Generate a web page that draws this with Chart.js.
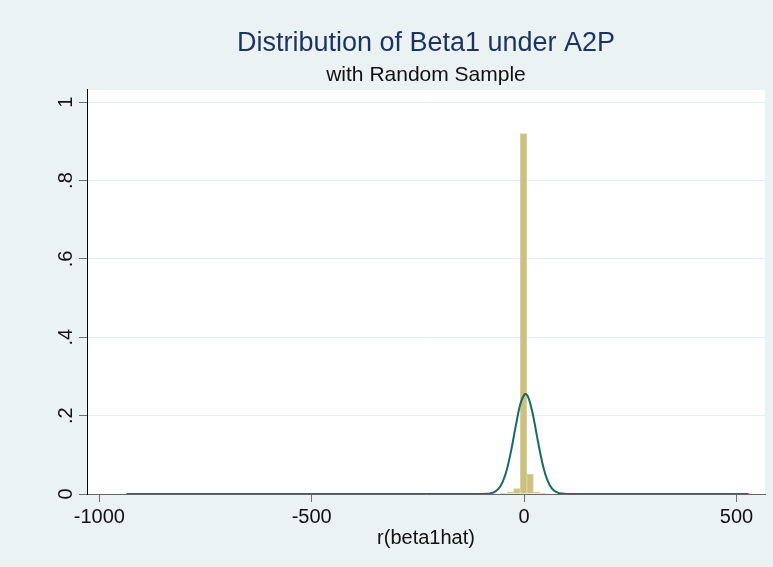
<!DOCTYPE html>
<html>
<head>
<meta charset="utf-8">
<title>Distribution of Beta1 under A2P</title>
<script src="https://cdn.jsdelivr.net/npm/chart.js@4.4.1/dist/chart.umd.min.js"></script>
<style>
  html, body { margin: 0; padding: 0; background: #eaf2f3; }
  canvas { display: block; }
</style>
</head>
<body>
<canvas id="betaChart" width="773" height="567"></canvas>
<script>
  // Histogram: bin midpoints and fraction of the sample in each bin
  const binMid = [-931.5, -482, -420, -311.5, -48, -32.5, -17, -1.5, 14, 29.5, 45, 339.5, 479, 525.5];
  const binFrac = [0.001, 0.001, 0.001, 0.001, 0.002, 0.005, 0.014, 0.92, 0.05, 0.005, 0.002, 0.001, 0.001, 0.001];

  // Normal density overlay (scaled to fraction)
  const curveX = [-936, -110, -100, -90, -80, -70, -60, -50, -40, -30, -20, -10, 0, 3, 10, 20, 30, 40, 50, 60, 70, 80, 90, 100, 110, 528];
  const curveY = [0, 0, 0.0001, 0.0004, 0.0016, 0.005, 0.0135, 0.032, 0.065, 0.114, 0.172, 0.225, 0.253, 0.255, 0.246, 0.206, 0.149, 0.093, 0.05, 0.023, 0.009, 0.003, 0.001, 0.0002, 0, 0];

  // Axis ticks
  const xTicks = [-1000, -500, 0, 500];
  const yTicks = [0, 0.2, 0.4, 0.6, 0.8, 1];
  const yTickLabels = ['0', '.2', '.4', '.6', '.8', '1'];

  const fontFamily = "'Liberation Sans', Arial, Helvetica, sans-serif";

  // Light blue-gray graph region with a white plot region
  const backdrop = {
    id: 'backdrop',
    beforeDraw(chart) {
      const { ctx, chartArea } = chart;
      ctx.save();
      ctx.fillStyle = '#eaf2f3';
      ctx.fillRect(0, 0, chart.width, chart.height);
      ctx.fillStyle = '#ffffff';
      ctx.fillRect(chartArea.left, chartArea.top, chartArea.right - chartArea.left, chartArea.bottom - chartArea.top);
      ctx.restore();
    }
  };

  // Y tick labels turned sideways, like the original
  const rotatedYLabels = {
    id: 'rotatedYLabels',
    afterDraw(chart) {
      const { ctx } = chart;
      const yScale = chart.scales.y;
      ctx.save();
      ctx.fillStyle = '#111111';
      ctx.font = '20px ' + fontFamily;
      ctx.textAlign = 'center';
      ctx.textBaseline = 'alphabetic';
      yTicks.forEach((v, i) => {
        ctx.save();
        ctx.translate(yScale.right - 15, yScale.getPixelForValue(v));
        ctx.rotate(-Math.PI / 2);
        ctx.fillText(yTickLabels[i], 0, 0);
        ctx.restore();
      });
      ctx.restore();
    }
  };

  const betaCtx = document.getElementById('betaChart').getContext('2d');
  const betaChart = new Chart(betaCtx, {
    type: 'bar',
    data: {
      datasets: [
        {
          type: 'line',
          data: curveX.map((x, i) => ({ x: x, y: curveY[i] })),
          borderColor: '#1b6a60',
          borderWidth: 2,
          pointRadius: 0,
          cubicInterpolationMode: 'monotone',
          order: 0
        },
        {
          type: 'bar',
          data: binMid.map((x, i) => ({ x: x, y: binFrac[i] })),
          backgroundColor: '#cdc17f',
          borderColor: '#dad19e',
          borderWidth: 1,
          barPercentage: 1,
          categoryPercentage: 1,
          order: 1
        }
      ]
    },
    options: {
      responsive: false,
      animation: false,
      layout: { padding: { top: 0, right: 8, bottom: 18, left: 0 } },
      plugins: {
        legend: { display: false },
        tooltip: { enabled: false },
        title: {
          display: true,
          text: 'Distribution of Beta1 under A2P',
          fullSize: false,
          color: '#1e325f',
          font: { family: fontFamily, size: 27, weight: 'normal', lineHeight: 1.2 },
          padding: { top: 27, bottom: 2 }
        },
        subtitle: {
          display: true,
          text: 'with Random Sample',
          fullSize: false,
          color: '#111111',
          font: { family: fontFamily, size: 21, weight: 'normal', lineHeight: 1.2 },
          padding: { top: 1.3, bottom: 2 }
        }
      },
      scales: {
        x: {
          type: 'linear',
          min: -1029,
          max: 567,
          offset: false,
          afterBuildTicks: scale => { scale.ticks = xTicks.map(v => ({ value: v })); },
          afterFit: scale => { scale.height = 55; },
          ticks: {
            color: '#111111',
            padding: 5,
            maxRotation: 0,
            font: { family: fontFamily, size: 20, lineHeight: 1.0 },
            callback: value => String(value)
          },
          grid: {
            offset: false,
            drawOnChartArea: false,
            color: 'transparent',
            tickColor: '#707070',
            tickLength: 8
          },
          border: { color: '#666666', width: 1 },
          title: {
            display: true,
            text: 'r(beta1hat)',
            color: '#111111',
            font: { family: fontFamily, size: 20, lineHeight: 1.1 },
            padding: { top: 0, bottom: 0 }
          }
        },
        y: {
          type: 'linear',
          min: 0,
          max: 1.0314,
          afterBuildTicks: scale => { scale.ticks = yTicks.map(v => ({ value: v })); },
          afterFit: scale => { scale.width = 87; },
          ticks: { display: false },
          grid: {
            color: '#e6eef0',
            lineWidth: 1,
            tickColor: '#707070',
            tickLength: 8
          },
          border: { color: '#000000', width: 1 }
        }
      }
    },
    plugins: [backdrop, rotatedYLabels]
  });
</script>
</body>
</html>
